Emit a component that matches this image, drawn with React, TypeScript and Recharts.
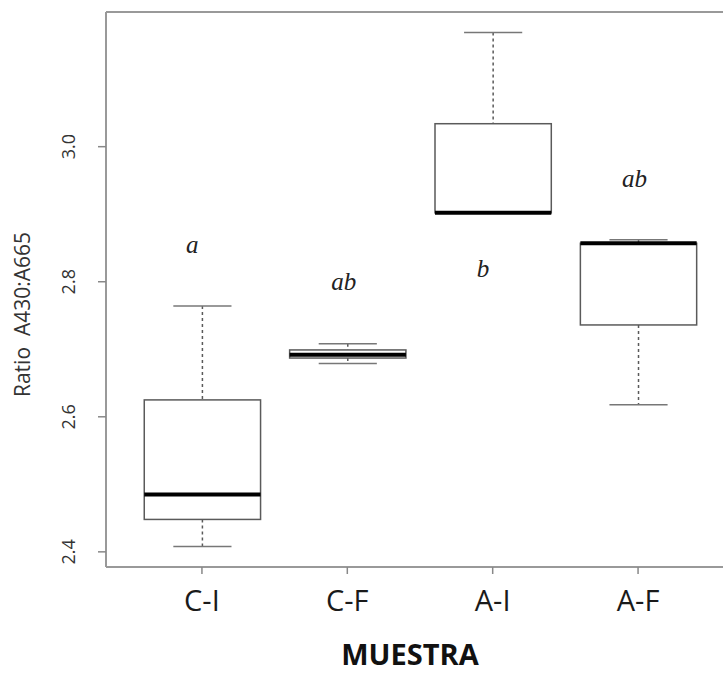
import React from 'react'
import { ComposedChart, Bar, XAxis, YAxis, ReferenceLine, ReferenceDot } from 'recharts'

// five-number summaries per sample group
const groups = ['C-I', 'C-F', 'A-I', 'A-F']
const whiskerLow = [2.408, 2.679, 2.902, 2.618]
const quartile1 = [2.448, 2.687, 2.902, 2.736]
const medians = [2.485, 2.692, 2.902, 2.857]
const quartile3 = [2.625, 2.699, 3.034, 2.857]
const whiskerHigh = [2.764, 2.708, 3.169, 2.862]

// significance letters and the height they sit at
const letters = ['a', 'ab', 'b', 'ab']
const letterY = [2.842, 2.7875, 2.807, 2.941]

const yTicks = [2.4, 2.6, 2.8, 3.0]

const data = groups.map((name, i) => ({
  name,
  lo: whiskerLow[i],
  q1: quartile1[i],
  med: medians[i],
  q3: quartile3[i],
  hi: whiskerHigh[i],
  range: [whiskerLow[i], whiskerHigh[i]],
}))

// R-style axis limits: data range stretched by 4% each side
const allLo = Math.min(...whiskerLow)
const allHi = Math.max(...whiskerHigh)
const yPad = (allHi - allLo) * 0.04
const yDomain = [allLo - yPad, allHi + yPad]

const CHART_W = 740
const CHART_H = 673
const AXIS_W = 106
const PLOT_W = CHART_W - AXIS_W - 6
// x limits 0.5..4.5 stretched by 4% -> 4.32 units across the plot
const unit = PLOT_W / 4.32
const xPad = (PLOT_W - 4 * unit) / 2
const boxWidth = unit * 0.8

const frame = '#999'
const ink = '#5a5a5a'

function BoxShape(props: any) {
  const { x, y, width, height, payload } = props
  const top = Math.min(y, y + height)
  const bottom = Math.max(y, y + height)
  const span = payload.hi - payload.lo
  const toPx = (v: number) => bottom - ((v - payload.lo) / span) * (bottom - top)
  const cx = x + width / 2
  const cap = width / 4
  const yHi = toPx(payload.hi)
  const yQ3 = toPx(payload.q3)
  const yMed = toPx(payload.med)
  const yQ1 = toPx(payload.q1)
  const yLo = toPx(payload.lo)
  return (
    <g>
      <line x1={cx} x2={cx} y1={yHi} y2={yQ3} stroke={ink} strokeWidth={1.5} strokeDasharray="3 3" />
      <line x1={cx} x2={cx} y1={yQ1} y2={yLo} stroke={ink} strokeWidth={1.5} strokeDasharray="3 3" />
      <line x1={cx - cap} x2={cx + cap} y1={yHi} y2={yHi} stroke="#777" strokeWidth={1.5} />
      <line x1={cx - cap} x2={cx + cap} y1={yLo} y2={yLo} stroke="#777" strokeWidth={1.5} />
      <rect x={x} y={yQ3} width={width} height={Math.max(yQ1 - yQ3, 0)} fill="#fff" stroke={ink} strokeWidth={1.5} />
      <line x1={x} x2={x + width} y1={yMed} y2={yMed} stroke="#000" strokeWidth={4} />
    </g>
  )
}

function YTick({ x, y, payload }: any) {
  return (
    <text
      x={x}
      y={y}
      transform={`rotate(-90, ${x}, ${y})`}
      textAnchor="middle"
      fontFamily="'Open Sans', sans-serif"
      fontSize={18}
      fill="#333"
    >
      {payload.value.toFixed(1)}
    </text>
  )
}

function XTick({ x, y, payload }: any) {
  return (
    <text x={x} y={y} dy={35} textAnchor="middle" fontFamily="'Open Sans', sans-serif" fontSize={29} fill="#1a1a1a">
      {payload.value}
    </text>
  )
}

function XTitle({ viewBox }: any) {
  const { x, y, width, height } = viewBox
  return (
    <text
      x={x + width / 2 - 10}
      y={y + height - 8}
      textAnchor="middle"
      fontFamily="'Open Sans', sans-serif"
      fontWeight="bold"
      fontSize={29}
      fill="#111"
    >
      MUESTRA
    </text>
  )
}

function YTitle({ viewBox }: any) {
  const { y, height } = viewBox
  const tx = 30
  const ty = y + height / 2 + 25
  return (
    <text
      x={tx}
      y={ty}
      transform={`rotate(-90, ${tx}, ${ty})`}
      textAnchor="middle"
      fontFamily="'Open Sans', sans-serif"
      fontSize={21}
      fill="#333"
      style={{ whiteSpace: 'pre' }}
    >
      {'Ratio  A430:A665'}
    </text>
  )
}

function Letter({ cx, cy, text }: any) {
  return (
    <text x={cx - 16} y={cy} textAnchor="start" fontFamily="'Liberation Serif', serif" fontStyle="italic" fontSize={25} fill="#222">
      {text}
    </text>
  )
}

export default function App() {
  return (
    <div style={{ position: 'absolute', left: 0, top: 0, width: 723, height: 673, overflow: 'hidden', background: '#fff' }}>
      <ComposedChart width={CHART_W} height={CHART_H} data={data} margin={{ top: 12, right: 6, bottom: 0, left: 0 }}>
        <XAxis
          dataKey="name"
          padding={{ left: xPad, right: xPad }}
          height={106}
          tickSize={7}
          tickMargin={2}
          axisLine={{ stroke: frame, strokeWidth: 2 }}
          tickLine={{ stroke: '#888', strokeWidth: 1.5 }}
          tick={<XTick />}
          label={<XTitle />}
        />
        <YAxis
          type="number"
          domain={yDomain}
          allowDataOverflow
          ticks={yTicks}
          width={AXIS_W}
          tickSize={8}
          tickMargin={23}
          axisLine={{ stroke: frame, strokeWidth: 2 }}
          tickLine={{ stroke: '#888', strokeWidth: 1.5 }}
          tick={<YTick />}
          label={<YTitle />}
        />
        <ReferenceLine y={yDomain[1]} stroke={frame} strokeWidth={2} />
        <Bar dataKey="range" barSize={boxWidth} shape={<BoxShape />} isAnimationActive={false} />
        {groups.map((g, i) => (
          <ReferenceDot
            key={g}
            x={g}
            y={letterY[i]}
            r={0}
            shape={(p: any) => <Letter cx={p.cx} cy={p.cy} text={letters[i]} />}
          />
        ))}
      </ComposedChart>
    </div>
  )
}
